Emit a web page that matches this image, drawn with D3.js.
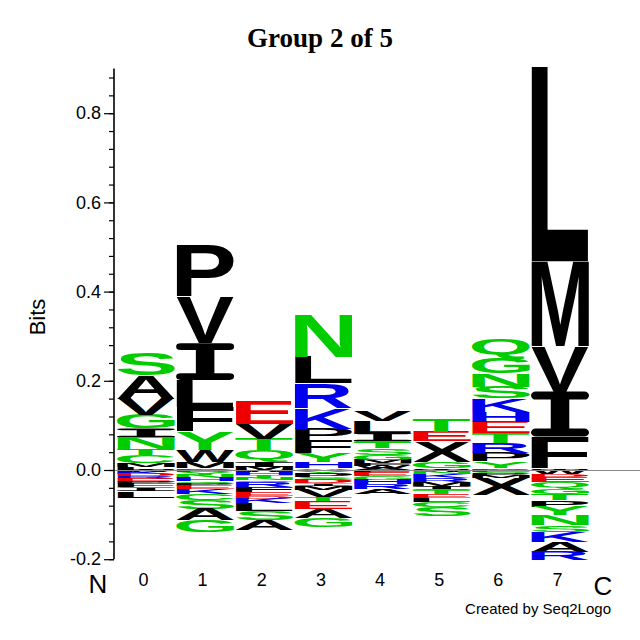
<!DOCTYPE html>
<html>
<head>
<meta charset="utf-8">
<script src="https://cdn.jsdelivr.net/npm/d3@7"></script>
<style>
  body { margin: 0; background: #fff; }
  text { font-family: "Liberation Sans", Arial, sans-serif; }
</style>
</head>
<body>
<svg id="chart" width="640" height="640"></svg>
<script>
// Sequence positions
const positions = ["0", "1", "2", "3", "4", "5", "6", "7"];

// Letters above zero, listed from the zero line upward: [residue, bits]
const up0 = [["L", 0.006], ["M", 0.009], ["C", 0.018], ["T", 0.013], ["N", 0.027], ["I", 0.020], ["G", 0.031], ["V", 0.036], ["A", 0.052], ["S", 0.049]];
const up1 = [["A", 0.004], ["M", 0.015], ["W", 0.026], ["Y", 0.041], ["F", 0.056], ["L", 0.060], ["I", 0.082], ["V", 0.104], ["P", 0.116]];
const up2 = [["M", 0.007], ["I", 0.011], ["Q", 0.026], ["T", 0.026], ["V", 0.034], ["E", 0.052]];
const up3 = [["A", 0.004], ["H", 0.013], ["Y", 0.020], ["F", 0.029], ["P", 0.027], ["K", 0.047], ["R", 0.054], ["L", 0.059], ["N", 0.097]];
const up4 = [["A", 0.005], ["W", 0.004], ["F", 0.006], ["M", 0.008], ["G", 0.011], ["S", 0.015], ["T", 0.015], ["I", 0.020], ["L", 0.025], ["V", 0.022]];
const up5 = [["A", 0.004], ["G", 0.015], ["X", 0.045], ["E", 0.022], ["T", 0.030]];
const up6 = [["A", 0.004], ["Y", 0.015], ["P", 0.019], ["R", 0.022], ["T", 0.022], ["E", 0.026], ["H", 0.022], ["K", 0.030], ["S", 0.026], ["N", 0.030], ["G", 0.034], ["Q", 0.045]];
const up7 = [["A", 0.004], ["F", 0.071], ["I", 0.101], ["V", 0.101], ["M", 0.191], ["L", 0.437]];

// Letters below zero, listed from the zero line downward: [residue, bits]
const down0 = [["W", 0.004], ["K", 0.005], ["D", 0.005], ["R", 0.006], ["E", 0.007], ["P", 0.004], ["F", 0.008], ["I", 0.008], ["L", 0.015]];
const down1 = [["D", 0.005], ["Y", 0.006], ["N", 0.007], ["H", 0.007], ["Q", 0.0045], ["P", 0.006], ["E", 0.0075], ["K", 0.011], ["C", 0.013], ["S", 0.020], ["A", 0.025], ["G", 0.027]];
const down2 = [["W", 0.005], ["H", 0.007], ["T", 0.006], ["N", 0.005], ["Q", 0.005], ["R", 0.010], ["F", 0.012], ["E", 0.009], ["D", 0.005], ["K", 0.011], ["L", 0.017], ["S", 0.020], ["A", 0.022]];
const down3 = [["Q", 0.004], ["Y", 0.005], ["P", 0.007], ["S", 0.007], ["D", 0.007], ["I", 0.006], ["M", 0.009], ["V", 0.016], ["T", 0.011], ["E", 0.016], ["A", 0.019], ["G", 0.021]];
const down4 = [["F", 0.006], ["E", 0.007], ["G", 0.009], ["H", 0.010], ["R", 0.010], ["A", 0.012]];
const down5 = [["W", 0.005], ["N", 0.005], ["K", 0.009], ["R", 0.008], ["M", 0.009], ["I", 0.008], ["T", 0.009], ["E", 0.009], ["L", 0.009], ["C", 0.012], ["S", 0.020]];
const down6 = [["E", 0.004], ["S", 0.003], ["P", 0.006], ["M", 0.006], ["X", 0.037]];
const down7 = [["W", 0.010], ["D", 0.006], ["E", 0.011], ["Q", 0.015], ["G", 0.011], ["T", 0.015], ["P", 0.015], ["Y", 0.019], ["N", 0.022], ["S", 0.015], ["K", 0.022], ["A", 0.022], ["R", 0.019]];

const ups = [up0, up1, up2, up3, up4, up5, up6, up7];
const downs = [down0, down1, down2, down3, down4, down5, down6, down7];

// Axis ticks
const majorTicks = [-0.2, 0.0, 0.2, 0.4, 0.6, 0.8];
const minorTicks = d3.range(-20, 89, 4).map(v => v / 100);

// Residue colours (Seq2Logo style)
const green = "#00cc00", blue = "#0000ee", red = "#ee0000", black = "#000000";
const residueColor = {
  G: green, S: green, T: green, Y: green, C: green, N: green, Q: green,
  K: blue, R: blue, H: blue,
  D: red, E: red
};

// Seq2Logo draws "I" with rounded serif bars; unit-box outline
const serifI = "M0.08,0 H0.92 A0.08,0.09 0 0 1 0.92,0.18 H0.66 V0.82 H0.92 " +
               "A0.08,0.09 0 0 1 0.92,1 H0.08 A0.08,0.09 0 0 1 0.08,0.82 H0.34 " +
               "V0.18 H0.08 A0.08,0.09 0 0 1 0.08,0 Z";

const svg = d3.select("#chart");

const x = d3.scaleBand()
    .domain(positions)
    .range([117, 589])
    .paddingInner(0.02);

const y = d3.scaleLinear()
    .domain([-0.2, 0.8])
    .range([559.2, 113.2]);

// Measure real ink bounds of each glyph so letters can be stretched into boxes
const ctx = document.createElement("canvas").getContext("2d");
ctx.font = "bold 100px 'Liberation Sans'";
const metricsCache = {};
function glyphMetrics(ch) {
    if (!metricsCache[ch]) {
        const m = ctx.measureText(ch);
        metricsCache[ch] = {
            l: m.actualBoundingBoxLeft,
            r: m.actualBoundingBoxRight,
            a: m.actualBoundingBoxAscent,
            d: m.actualBoundingBoxDescent
        };
    }
    return metricsCache[ch];
}

// Flatten stacks into boxes
const boxes = [];
positions.forEach((pos, i) => {
    let acc = 0;
    ups[i].forEach(([ch, v]) => {
        boxes.push({pos, ch, lo: acc, hi: acc + v});
        acc += v;
    });
    acc = 0;
    downs[i].forEach(([ch, v]) => {
        boxes.push({pos, ch, lo: acc - v, hi: acc});
        acc -= v;
    });
});

const letters = svg.append("g");

letters.selectAll("path")
    .data(boxes.filter(d => d.ch === "I"))
    .enter()
    .append("path")
    .attr("d", serifI)
    .attr("fill", d => residueColor[d.ch] || black)
    .attr("transform", d => {
        const top = y(d.hi);
        return `translate(${x(d.pos)},${top}) scale(${x.bandwidth()},${y(d.lo) - top})`;
    });

letters.selectAll("text")
    .data(boxes.filter(d => d.ch !== "I"))
    .enter()
    .append("text")
    .attr("font-size", 100)
    .attr("font-weight", "bold")
    .style("font-family", "'Liberation Sans'")
    .attr("fill", d => residueColor[d.ch] || black)
    .attr("transform", d => {
        const m = glyphMetrics(d.ch);
        const w = x.bandwidth();
        const top = y(d.hi);
        const h = y(d.lo) - top;
        const sx = w / (m.l + m.r);
        const sy = h / (m.a + m.d);
        return `translate(${x(d.pos) + m.l * sx},${top + m.a * sy}) scale(${sx},${sy})`;
    })
    .text(d => d.ch);

// Zero line
svg.append("line")
    .attr("x1", 114)
    .attr("x2", 640)
    .attr("y1", y(0) + 0.5)
    .attr("y2", y(0) + 0.5)
    .attr("stroke", "#888")
    .attr("stroke-width", 1);

// Y axis
const axisG = svg.append("g").attr("transform", "translate(114,0)");

axisG.append("g")
    .call(d3.axisLeft(y).tickValues(minorTicks).tickSize(5).tickFormat(""))
    .call(g => g.select(".domain").remove());

axisG.append("g")
    .call(d3.axisLeft(y).tickValues(majorTicks).tickSize(10).tickPadding(3)
        .tickFormat(d => d.toFixed(1)))
    .call(g => g.select(".domain").remove())
    .call(g => g.selectAll("text")
        .style("font-family", "'Liberation Sans'")
        .style("font-size", "18px")
        .attr("fill", "#000"));

axisG.selectAll("line").attr("stroke", "#000").attr("stroke-width", 1.2);

axisG.append("line")
    .attr("x1", 0).attr("x2", 0)
    .attr("y1", y(-0.2)).attr("y2", y(0.9))
    .attr("stroke", "#000")
    .attr("stroke-width", 1.6);

// Axis title
svg.append("text")
    .attr("transform", "translate(45,317) rotate(-90)")
    .attr("text-anchor", "middle")
    .style("font-size", "22px")
    .text("Bits");

// Position labels
svg.append("g")
    .selectAll("text")
    .data(positions)
    .enter()
    .append("text")
    .attr("x", d => x(d) + x.bandwidth() / 2 - 2.5)
    .attr("y", 586)
    .attr("text-anchor", "middle")
    .style("font-size", "18px")
    .text(d => d);

svg.append("text")
    .attr("x", 98).attr("y", 593)
    .attr("text-anchor", "middle")
    .style("font-size", "26px")
    .text("N");

svg.append("text")
    .attr("x", 603).attr("y", 595)
    .attr("text-anchor", "middle")
    .style("font-size", "26px")
    .text("C");

// Title
svg.append("text")
    .attr("x", 320).attr("y", 47)
    .attr("text-anchor", "middle")
    .style("font-family", "'Liberation Serif', 'Times New Roman', serif")
    .style("font-weight", "bold")
    .style("font-size", "27px")
    .text("Group 2 of 5");

svg.append("text")
    .attr("x", 611).attr("y", 614)
    .attr("text-anchor", "end")
    .style("font-size", "15px")
    .text("Created by Seq2Logo");
</script>
</body>
</html>
